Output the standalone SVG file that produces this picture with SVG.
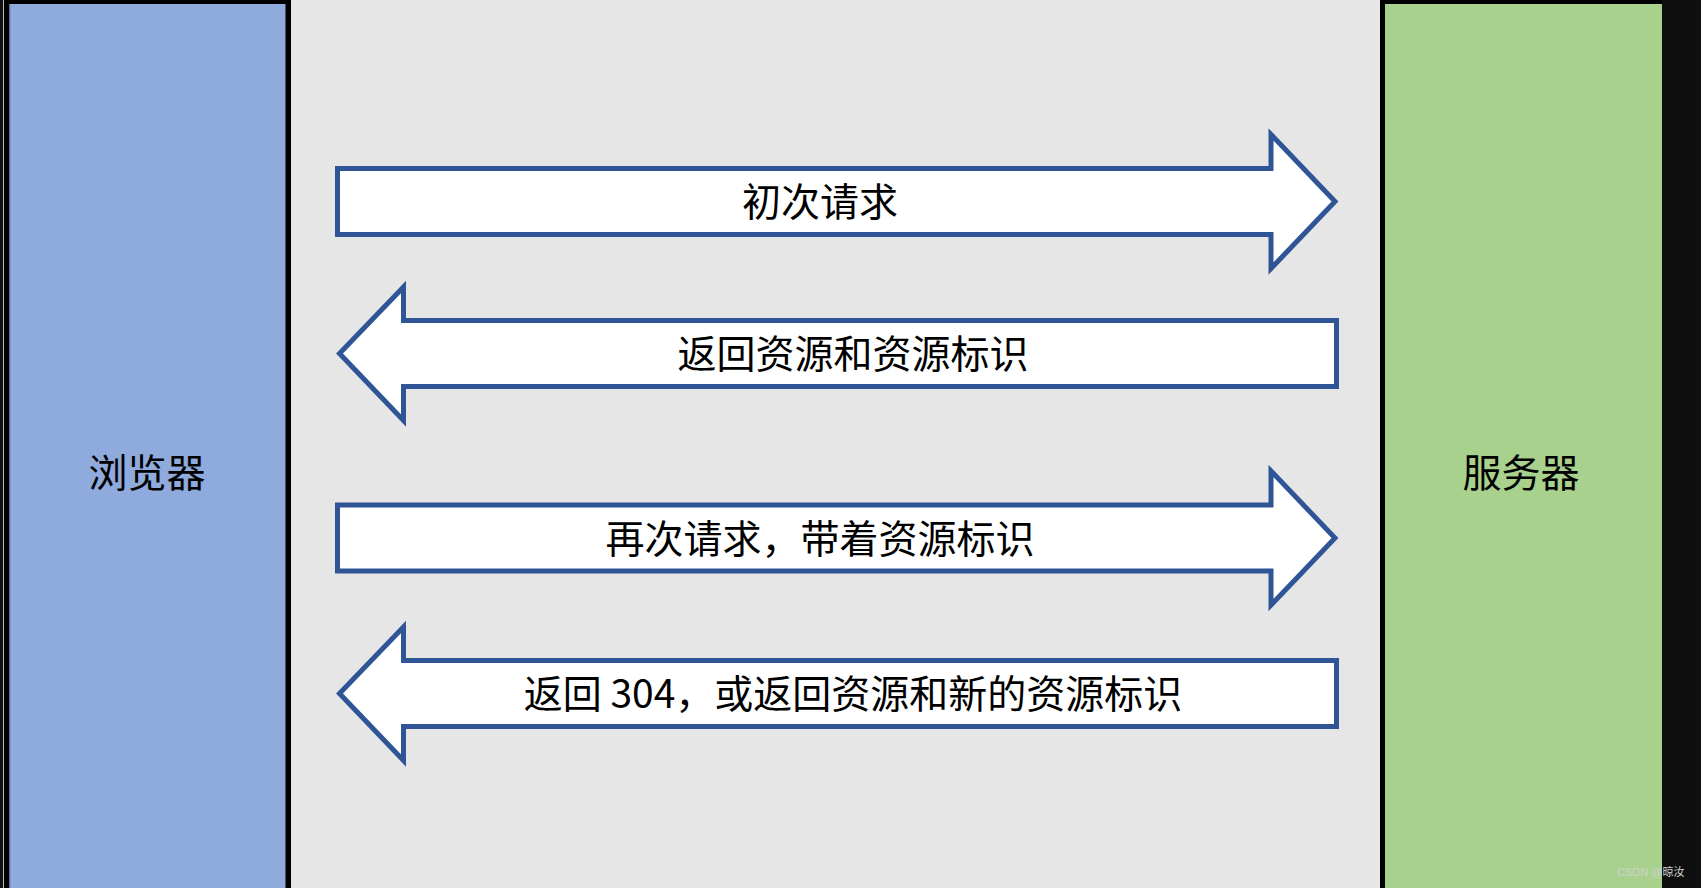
<svg xmlns="http://www.w3.org/2000/svg" width="1701" height="888" viewBox="0 0 1701 888">
  <style>
    .arrow { fill: #FFFFFF; stroke: #2F5597; stroke-width: 5; stroke-linejoin: miter; stroke-miterlimit: 10; }
    .lbl { font-family: "Noto Sans CJK SC", "Noto Sans", sans-serif; font-size: 39px; fill: #000000; text-anchor: middle; }
    .wm { font-family: "Liberation Sans", "Noto Sans CJK SC", sans-serif; font-size: 11px; fill: #D0D0D0; }
  </style>
  <rect x="0" y="0" width="1701" height="888" fill="#000000"/>
  <rect x="0" y="0" width="3" height="888" fill="#111111"/>
  <rect x="3" y="0" width="1" height="888" fill="#BFBFBF"/>
  <rect x="291" y="0" width="1089" height="888" fill="#E6E6E6"/>
  <rect x="1662" y="0" width="39" height="888" fill="#0F0F0F"/>

  <g id="browser">
    <rect x="9.5" y="4" width="276" height="884" fill="#8FAADC"/>
    <rect x="9.5" y="4" width="1" height="884" fill="#6F8CC4"/>
    <text class="lbl" x="147" y="487">浏览器</text>
  </g>

  <g id="server">
    <rect x="1385" y="4" width="277" height="884" fill="#A9D18E"/>
    <text class="lbl" x="1521" y="487">服务器</text>
  </g>

  <g id="connectors">
    <g id="req1">
      <polygon class="arrow" points="337.5,168.5 1271,168.5 1271,134.5 1335,201.5 1271,268.5 1271,234.5 337.5,234.5"/>
      <text class="lbl" x="820" y="216">初次请求</text>
    </g>
    <g id="resp1">
      <polygon class="arrow" points="1336.5,320.5 403.5,320.5 403.5,287 339.5,353.5 403.5,420.5 403.5,386.5 1336.5,386.5"/>
      <text class="lbl" x="853" y="368">返回资源和资源标识</text>
    </g>
    <g id="req2">
      <polygon class="arrow" points="337.5,505 1271,505 1271,471 1335,538 1271,605 1271,571 337.5,571"/>
      <text class="lbl" x="820" y="553">再次请求，带着资源标识</text>
    </g>
    <g id="resp2">
      <polygon class="arrow" points="1336.5,660.5 403.5,660.5 403.5,627 339.5,693.5 403.5,760.5 403.5,726.5 1336.5,726.5"/>
      <text class="lbl" x="853" y="708">返回 304，或返回资源和新的资源标识</text>
    </g>
  </g>

  <text class="wm" x="1617" y="876">CSDN @晾汝</text>
</svg>
